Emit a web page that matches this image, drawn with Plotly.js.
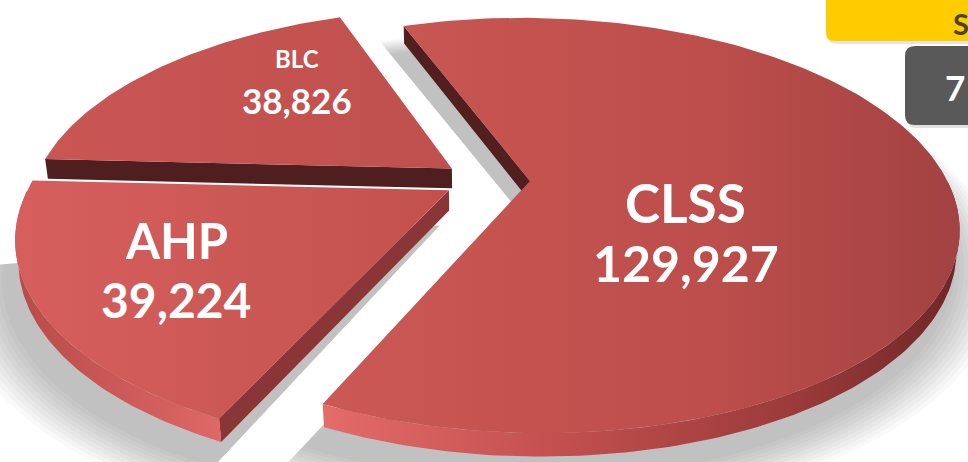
<!DOCTYPE html>
<html><head><meta charset="utf-8">
<script src="https://cdn.plot.ly/plotly-3.0.1.min.js"></script>
<style>html,body{margin:0;padding:0;background:#fff;overflow:hidden}#chart{width:968px;height:462px}</style>
</head><body><div id="chart"></div>
<script>
// ---------- data ----------
const categories = ['CLSS', 'AHP', 'BLC'];
const values = [129927, 39224, 38826];
const boxTexts = ['S', '7'];

// ---------- style / camera ----------
const W = 968, H = 462;
const CX = 485, CY = 180;          // screen position of the pie centre
const F = 1712, DIST = 4.106;      // perspective camera
const TILT = 28.3 * Math.PI / 180;
const THICK = 0.055;               // pie thickness (radius = 1)
const ROTATION = -20;
const pulls = [0.108, 0.1, 0.1];
const drawOrder = [2, 0, 1];
const castsShadow = [true, true, false];
const shadowTrimEnd = [0, 14, 0];
const topGrad = [
  {start: 330, stop: 960, cs: [[0, '#CB5855'], [0.6, '#BD4E4B'], [1, '#A24242']]},
  {start: 20, stop: 450, cs: [[0, '#D65F5D'], [1, '#C2514E']]},
  {start: 40, stop: 460, cs: [[0, '#CA5654'], [1, '#BF504D']]}
];
const rimGrad = [
  {start: 320, stop: 960, cs: [[0, '#E46C6A'], [0.35, '#C45150'], [0.75, '#9A3A3A'], [1, '#6E2626']]},
  {start: 15, stop: 240, cs: [[0, '#B84A48'], [1, '#E26B69']]},
  {start: 40, stop: 460, cs: [[0, '#9A3A3A'], [1, '#9A3A3A']]}
];
const sideColor = ['#521F1F', '#8A3636', '#4F1E1E'];
const labelPolar = [[125.5, 0.427], [238.4, 0.692], [320.3, 0.667]];
const labelGap = [30, 30, 21];
const nameSize = [53, 49, 24];
const valueSize = [50, 48, 35];
const FONT = 'Lato';

// ---------- geometry ----------
const D2R = Math.PI / 180;
const cT = Math.cos(TILT), sT = Math.sin(TILT);
function proj(X, Y, Z) {
  const yc = Y * cT + Z * sT;
  const d = DIST + Z * cT - Y * sT;
  return [CX + F * X / d, CY - F * yc / d];
}
function worldPt(c, th, r, Y) {
  const a = th * D2R;
  return proj(c[0] + r * Math.sin(a), Y || 0, c[1] + r * Math.cos(a));
}
function arc(c, t1, t2, r, Y) {
  const pts = [];
  const n = Math.max(2, Math.ceil(Math.abs(t2 - t1)));
  for (let i = 0; i <= n; i++) pts.push(worldPt(c, t1 + (t2 - t1) * i / n, r, Y));
  return pts;
}
function poly(pts, color, grad) {
  const tr = {
    type: 'scatter', mode: 'lines', x: pts.map(p => p[0]), y: pts.map(p => p[1]),
    fill: 'toself', fillcolor: color, line: {width: 0, color: 'rgba(0,0,0,0)'},
    hoverinfo: 'skip', showlegend: false
  };
  if (grad) tr.fillgradient = {type: 'horizontal', start: grad.start, stop: grad.stop, colorscale: grad.cs};
  return tr;
}

const total = values.reduce((s, v) => s + v, 0);
const slices = [];
let acc = ROTATION;
values.forEach((v, i) => {
  const span = v / total * 360;
  const t1 = acc, t2 = acc + span;
  acc = t2;
  const m = (t1 + t2) / 2 * D2R;
  slices.push({t1, t2, c: [pulls[i] * Math.sin(m), pulls[i] * Math.cos(m)]});
});

const traces = [];
// soft shadow on the ground, offset towards the front-left
slices.forEach((s, i) => {
  if (!castsShadow[i]) return;
  const sc = [s.c[0] - 0.02, s.c[1] - 0.07];
  for (let e = 0; e <= 0.1001; e += 0.01) {
    const apex = proj(sc[0], -THICK, sc[1]);
    const pts = [apex].concat(arc(sc, s.t1 - 1, s.t2 + 1 - shadowTrimEnd[i], 1 + e, -THICK)).concat([apex]);
    traces.push(poly(pts, 'rgba(0,0,0,0.024)'));
  }
});

drawOrder.forEach(i => {
  const s = slices[i];
  const apexTop = proj(s.c[0], 0, s.c[1]);
  const apexBot = proj(s.c[0], -THICK, s.c[1]);
  // radial side faces facing the viewer
  [[s.t1, Math.sin(s.t1 * D2R) < 0], [s.t2, Math.sin(s.t2 * D2R) > 0]].forEach(([th, vis]) => {
    if (!vis) return;
    const pts = [apexTop, worldPt(s.c, th, 1, 0), worldPt(s.c, th, 1, -THICK), apexBot, apexTop];
    traces.push(poly(pts, sideColor[i]));
  });
  // outer rim on the front half
  for (let k = -1; k <= 1; k++) {
    const lo = Math.max(s.t1, 90 + 360 * k), hi = Math.min(s.t2, 270 + 360 * k);
    if (hi > lo) {
      const top = arc(s.c, lo, hi, 1, 0);
      const bot = arc(s.c, hi, lo, 1, -THICK);
      traces.push(poly(top.concat(bot).concat([top[0]]), '#B04646', rimGrad[i]));
    }
  }
  // top face
  const pts = [apexTop].concat(arc(s.c, s.t1, s.t2, 1, 0)).concat([apexTop]);
  traces.push(poly(pts, '#C0504D', topGrad[i]));
});

// ---------- labels ----------
const annotations = [];
slices.forEach((s, i) => {
  const lp = worldPt(s.c, labelPolar[i][0], labelPolar[i][1], 0);
  annotations.push({x: lp[0], y: lp[1] - labelGap[i], xref: 'x', yref: 'y', text: categories[i],
    showarrow: false, xanchor: 'center', yanchor: 'middle',
    font: {family: FONT, size: nameSize[i], color: '#FFFFFF', weight: 700}});
  annotations.push({x: lp[0], y: lp[1] + labelGap[i], xref: 'x', yref: 'y', text: values[i].toLocaleString('en-US'),
    showarrow: false, xanchor: 'center', yanchor: 'middle',
    font: {family: FONT, size: valueSize[i], color: '#FFFFFF', weight: 700}});
});
annotations.push({x: 951, y: 23, xref: 'x', yref: 'y', text: boxTexts[0], showarrow: false,
  xanchor: 'left', yanchor: 'middle', font: {family: FONT, size: 29, color: '#4A4426', weight: 700}});
annotations.push({x: 943, y: 87, xref: 'x', yref: 'y', text: boxTexts[1], showarrow: false,
  xanchor: 'left', yanchor: 'middle', font: {family: FONT, size: 35, color: '#FFFFFF', weight: 700}});

function roundRect(x0, y0, x1, y1, r) {
  return `M ${x0 + r} ${y0} L ${x1} ${y0} L ${x1} ${y1} L ${x0 + r} ${y1} Q ${x0} ${y1} ${x0} ${y1 - r} L ${x0} ${y0 + r} Q ${x0} ${y0} ${x0 + r} ${y0} Z`;
}
const shapes = [
  {type: 'path', xref: 'x', yref: 'y', path: roundRect(828, -20, 1000, 44, 8), fillcolor: 'rgba(0,0,0,0.10)', line: {width: 0}, layer: 'above'},
  {type: 'path', xref: 'x', yref: 'y', path: roundRect(826, -20, 1000, 41, 8), fillcolor: '#FFCC00', line: {width: 0}, layer: 'above'},
  {type: 'path', xref: 'x', yref: 'y', path: roundRect(907, 49, 1000, 128, 10), fillcolor: 'rgba(0,0,0,0.12)', line: {width: 0}, layer: 'above'},
  {type: 'path', xref: 'x', yref: 'y', path: roundRect(905, 46, 1000, 125, 10), fillcolor: '#595959', line: {width: 0}, layer: 'above'}
];

const layout = {
  width: W, height: H, margin: {l: 0, r: 0, t: 0, b: 0},
  paper_bgcolor: '#FFFFFF', plot_bgcolor: '#FFFFFF', showlegend: false,
  xaxis: {range: [0, W], visible: false, fixedrange: true},
  yaxis: {range: [H, 0], visible: false, fixedrange: true},
  annotations, shapes
};
Plotly.newPlot('chart', traces, layout, {staticPlot: true, displayModeBar: false});
</script></body></html>
